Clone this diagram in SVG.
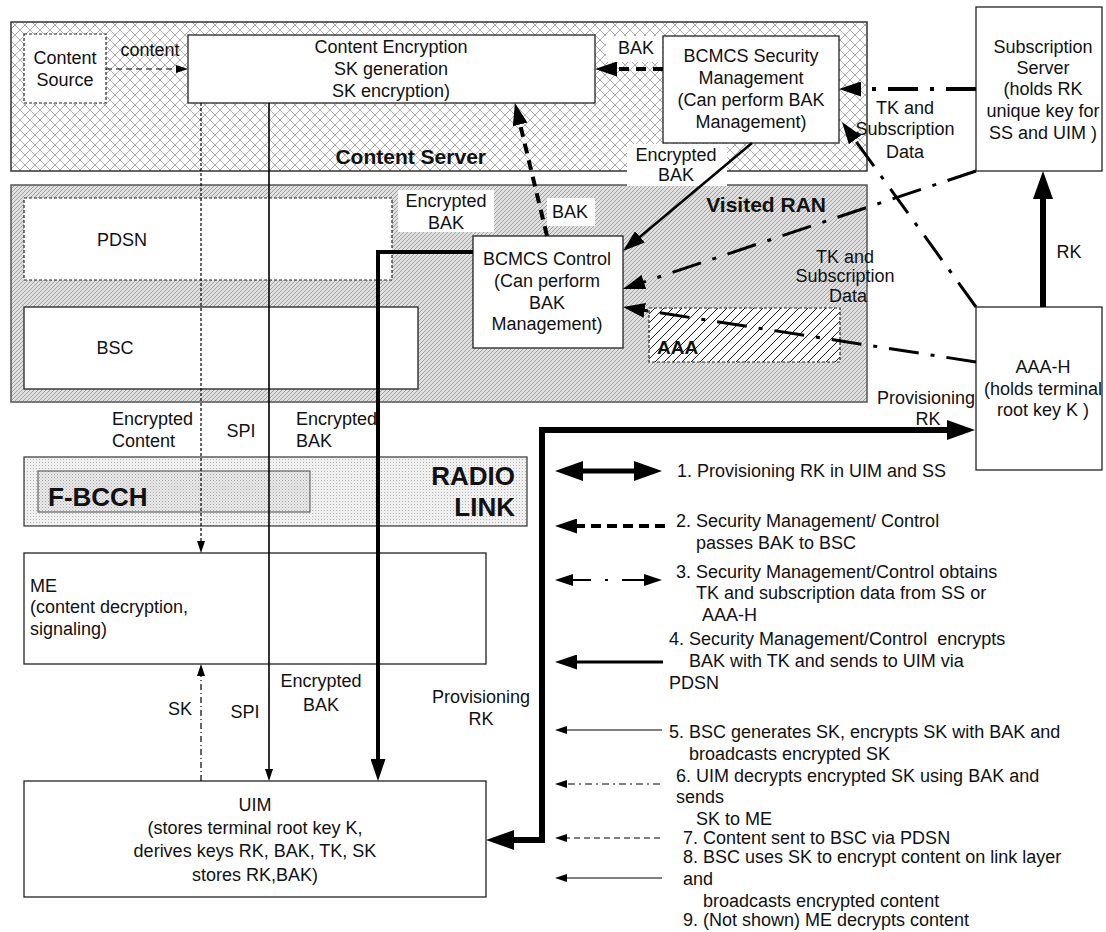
<svg xmlns="http://www.w3.org/2000/svg" width="1106" height="932" viewBox="0 0 1106 932">
<style>
text{font-family:"Liberation Sans",Arial,sans-serif;font-size:18px;fill:#111}
.c{text-anchor:middle}
.e{text-anchor:end}
.b{font-weight:bold}
.pre{white-space:pre}
.box{fill:#fff;stroke:#222;stroke-width:1.3}
.dbox{fill:#fff;stroke:#222;stroke-width:1.2;stroke-dasharray:3 2}
.wb{fill:#fff;stroke:none}
.ln{fill:none;stroke:#000}
</style>
<defs>
<pattern id="xh" patternUnits="userSpaceOnUse" width="10" height="10"><rect width="10" height="10" fill="#fff"/><path d="M0,0L10,10M10,0L0,10" stroke="#a6a6a6" stroke-width="0.9"/></pattern>
<pattern id="dh" patternUnits="userSpaceOnUse" width="4" height="4"><rect width="4" height="4" fill="#e0e0e0"/><path d="M-1,1L1,-1M0,4L4,0M3,5L5,3" stroke="#a0a0a0" stroke-width="1"/></pattern>
<pattern id="dots" patternUnits="userSpaceOnUse" width="3" height="3"><rect width="3" height="3" fill="#f0f0f0"/><rect width="1" height="1" fill="#b4b4b4"/></pattern>
<pattern id="dots2" patternUnits="userSpaceOnUse" width="3" height="3"><rect width="3" height="3" fill="#e8e8e8"/><rect width="1" height="1" fill="#a8a8a8"/><rect x="1.5" y="1.5" width="1" height="1" fill="#c4c4c4"/></pattern>
<pattern id="ah" patternUnits="userSpaceOnUse" width="9" height="9"><rect width="9" height="9" fill="#fff"/><path d="M-1,1L1,-1M0,9L9,0M8,10L10,8" stroke="#222" stroke-width="1"/></pattern>
<marker id="big" markerUnits="userSpaceOnUse" viewBox="0 0 28 20" markerWidth="28" markerHeight="20" refX="8" refY="10" orient="auto-start-reverse"><path d="M0,0L28,10L0,20z" fill="#000"/></marker>
<marker id="med" markerUnits="userSpaceOnUse" viewBox="0 0 22 15" markerWidth="22" markerHeight="15" refX="6" refY="7.5" orient="auto-start-reverse"><path d="M0,0L22,7.5L0,15z" fill="#000"/></marker>
<marker id="m2" markerUnits="userSpaceOnUse" viewBox="0 0 18 12" markerWidth="18" markerHeight="12" refX="4" refY="6" orient="auto-start-reverse"><path d="M0,0L18,6L0,12z" fill="#000"/></marker>
<marker id="sm" markerUnits="userSpaceOnUse" viewBox="0 0 12 8" markerWidth="12" markerHeight="8" refX="4" refY="4" orient="auto-start-reverse"><path d="M0,0L12,4L0,8z" fill="#000"/></marker>
</defs>
<rect width="1106" height="932" fill="#fff"/>

<g id="content-server">
<rect x="11" y="22" width="856" height="149" fill="url(#xh)" stroke="#333" stroke-width="1.5"/>
<text class="e b" x="486" y="164" style="font-size:21px">Content Server</text>
</g>
<g id="visited-ran">
<rect x="11" y="185" width="856" height="217" fill="url(#dh)" stroke="#555" stroke-width="1.5"/>
<text class="e b" x="826" y="212" style="font-size:21px">Visited RAN</text>
</g>

<g id="content-source">
<rect class="dbox" x="24" y="34" width="82" height="69"/>
<text class="c" x="65" y="64">Content</text>
<text class="c" x="65" y="86">Source</text>
</g>
<g id="content-encryption">
<rect class="box" x="188" y="35" width="407" height="68"/>
<text class="c" x="391" y="53">Content Encryption</text>
<text class="c" x="391" y="75">SK generation</text>
<text class="c" x="391" y="97">SK encryption)</text>
</g>
<g id="bcmcs-security-management">
<rect class="box" x="663" y="36" width="176" height="107"/>
<text class="c" x="751" y="62">BCMCS Security</text>
<text class="c" x="751" y="84">Management</text>
<text class="c" x="751" y="106">(Can perform BAK</text>
<text class="c" x="751" y="128">Management)</text>
</g>
<g id="subscription-server">
<rect class="box" x="976" y="7" width="126" height="164"/>
<text class="c" x="1043" y="53">Subscription</text>
<text class="c" x="1043" y="74">Server</text>
<text class="c" x="1043" y="95">(holds RK</text>
<text class="c" x="1043" y="117">unique key for</text>
<text class="c" x="1043" y="139">SS and UIM )</text>
</g>
<g id="aaa-h">
<rect class="box" x="976" y="307" width="126" height="163"/>
<text class="c" x="1043" y="373">AAA-H</text>
<text class="c" x="1043" y="395">(holds terminal</text>
<text class="c" x="1043" y="416">root key K )</text>
</g>
<g id="pdsn">
<rect class="dbox" x="24" y="198" width="368" height="82"/>
<text class="c" x="122" y="246">PDSN</text>
</g>
<g id="bsc">
<rect class="box" x="24" y="307" width="394" height="82"/>
<text class="c" x="115" y="354">BSC</text>
</g>
<g id="bcmcs-control">
<rect class="box" x="473" y="236" width="150" height="112"/>
<text class="c" x="547" y="265">BCMCS Control</text>
<text class="c" x="547" y="287">(Can perform</text>
<text class="c" x="547" y="309">BAK</text>
<text class="c" x="547" y="330">Management)</text>
</g>
<g id="aaa">
<rect x="649" y="308" width="191" height="54" fill="url(#ah)" stroke="#222" stroke-width="1.2" stroke-dasharray="3 2"/>
<text class="b" x="657" y="354" style="font-size:19px">AAA</text>
</g>
<g id="radio-link">
<rect x="24" y="457" width="503" height="69" fill="url(#dots)" stroke="#333" stroke-width="1.2"/>
<text class="e b" x="515" y="485" style="font-size:26px">RADIO</text>
<text class="e b" x="515" y="516" style="font-size:26px">LINK</text>
</g>
<g id="f-bcch">
<rect x="38" y="471" width="272" height="41" fill="url(#dots2)" stroke="#666" stroke-width="1.2"/>
<text class="b" x="48" y="506" style="font-size:26px">F-BCCH</text>
</g>
<g id="me">
<rect class="box" x="24" y="553" width="462" height="111"/>
<text x="30" y="592">ME</text>
<text x="30" y="613">(content decryption,</text>
<text x="30" y="635">signaling)</text>
</g>
<g id="uim">
<rect class="box" x="24" y="781" width="462" height="116"/>
<text class="c" x="255" y="811">UIM</text>
<text class="c" x="255" y="834">(stores terminal root key K,</text>
<text class="c" x="255" y="857">derives keys RK, BAK, TK, SK</text>
<text class="c" x="255" y="881">stores RK,BAK)</text>
</g>

<g id="label-backgrounds">
<rect class="wb" x="606" y="36" width="56" height="26"/>
<rect class="wb" x="627" y="144" width="100" height="42"/>
<rect class="wb" x="398" y="190" width="96" height="42"/>
<rect class="wb" x="547" y="198" width="48" height="28"/>
</g>

<g id="connectors">
<path class="ln" d="M106,69H180" stroke="#444" stroke-width="1.2" stroke-dasharray="6 4" marker-end="url(#sm)"/>
<path class="ln" d="M663,69H611" stroke-width="4" stroke-dasharray="10 7" marker-end="url(#med)"/>
<path class="ln" d="M547,236L518.7,118.6" stroke-width="4" stroke-dasharray="10 7" marker-end="url(#med)"/>
<path class="ln" d="M752,143L635.3,240.7" stroke-width="2.5" marker-end="url(#med)"/>
<path class="ln" d="M976,89H855" stroke-width="4" stroke-dasharray="30 12 4 12" marker-end="url(#med)"/>
<path class="ln" d="M976,307L851.4,135" stroke-width="3" stroke-dasharray="30 12 4 12" marker-end="url(#med)"/>
<path class="ln" d="M976,171L638.2,283.9" stroke-width="3" stroke-dasharray="30 12 4 12" marker-end="url(#med)"/>
<path class="ln" d="M976,362L638.8,309.5" stroke-width="3" stroke-dasharray="30 12 4 12" marker-end="url(#med)"/>
<path class="ln" d="M1043,307V191" stroke-width="6" marker-end="url(#big)"/>
<path class="ln" d="M201,103V545" stroke="#333" stroke-width="1.2" stroke-dasharray="3 2" marker-end="url(#sm)"/>
<path class="ln" d="M269,103V773" stroke="#666" stroke-width="1.6" marker-end="url(#sm)"/>
<path class="ln" d="M473,252H378V765" stroke-width="4" marker-end="url(#med)"/>
<path class="ln" d="M955,430H542V840H506" stroke-width="6" marker-start="url(#big)" marker-end="url(#big)"/>
<path class="ln" d="M201,781V672" stroke="#333" stroke-width="1.2" stroke-dasharray="6 3 1 3" marker-end="url(#sm)"/>
</g>

<g id="legend-arrows">
<path class="ln" d="M575,471H642" stroke-width="5" marker-start="url(#big)" marker-end="url(#big)"/>
<path class="ln" d="M665,526H571" stroke-width="4" stroke-dasharray="10 6" marker-end="url(#med)"/>
<path class="ln" d="M569,580H648" stroke-width="2" stroke-dasharray="22 14 3 14" marker-start="url(#m2)" marker-end="url(#m2)"/>
<path class="ln" d="M663,662H571" stroke-width="3" marker-end="url(#med)"/>
<path class="ln" d="M662,730H563" stroke-width="1" marker-end="url(#sm)"/>
<path class="ln" d="M660,784H563" stroke-width="1" stroke-dasharray="7 4 2 4" marker-end="url(#sm)"/>
<path class="ln" d="M660,838H563" stroke-width="1" stroke-dasharray="6 4" marker-end="url(#sm)"/>
<path class="ln" d="M662,878H563" stroke-width="1" marker-end="url(#sm)"/>
</g>

<g id="connector-labels">
<text class="c" x="150" y="56">content</text>
<text class="c" x="636" y="54">BAK</text>
<text class="c" x="676" y="161">Encrypted</text>
<text class="c" x="676" y="181">BAK</text>
<text class="c" x="446" y="207">Encrypted</text>
<text class="c" x="446" y="229">BAK</text>
<text class="c" x="570" y="218">BAK</text>
<text class="c" x="905" y="114">TK and</text>
<text class="c" x="905" y="135">Subscription</text>
<text class="c" x="905" y="158">Data</text>
<text class="c" x="845" y="263">TK and</text>
<text class="c" x="845" y="282">Subscription</text>
<text class="c" x="848" y="302">Data</text>
<text class="c" x="1069" y="258">RK</text>
<text class="c" x="926" y="404">Provisioning</text>
<text class="c" x="928" y="425">RK</text>
<text x="112" y="425">Encrypted</text>
<text x="112" y="447">Content</text>
<text class="c" x="241" y="437">SPI</text>
<text x="296" y="425">Encrypted</text>
<text x="296" y="447">BAK</text>
<text class="c" x="180" y="715">SK</text>
<text class="c" x="245" y="718">SPI</text>
<text class="c" x="321" y="687">Encrypted</text>
<text class="c" x="321" y="711">BAK</text>
<text class="c" x="481" y="703">Provisioning</text>
<text class="c" x="481" y="725">RK</text>
</g>

<g id="legend-text">
<text x="677" y="477">1. Provisioning RK in UIM and SS</text>
<text x="676" y="527">2. Security Management/ Control</text>
<text x="696" y="549">passes BAK to BSC</text>
<text x="676" y="578">3. Security Management/Control obtains</text>
<text x="696" y="599">TK and subscription data from SS or</text>
<text x="702" y="621">AAA-H</text>
<text class="pre" x="669" y="645">4. Security Management/Control  encrypts</text>
<text x="689" y="667">BAK with TK and sends to UIM via</text>
<text x="669" y="689">PDSN</text>
<text x="669" y="738">5. BSC generates SK, encrypts SK with BAK and</text>
<text x="689" y="760">broadcasts encrypted SK</text>
<text x="676" y="782">6. UIM decrypts encrypted SK using BAK and</text>
<text x="676" y="803">sends</text>
<text x="696" y="825">SK to ME</text>
<text x="683" y="844">7. Content sent to BSC via PDSN</text>
<text x="683" y="863">8. BSC uses SK to encrypt content on link layer</text>
<text x="683" y="885">and</text>
<text x="703" y="907">broadcasts encrypted content</text>
<text x="683" y="926">9. (Not shown) ME decrypts content</text>
</g>
</svg>
